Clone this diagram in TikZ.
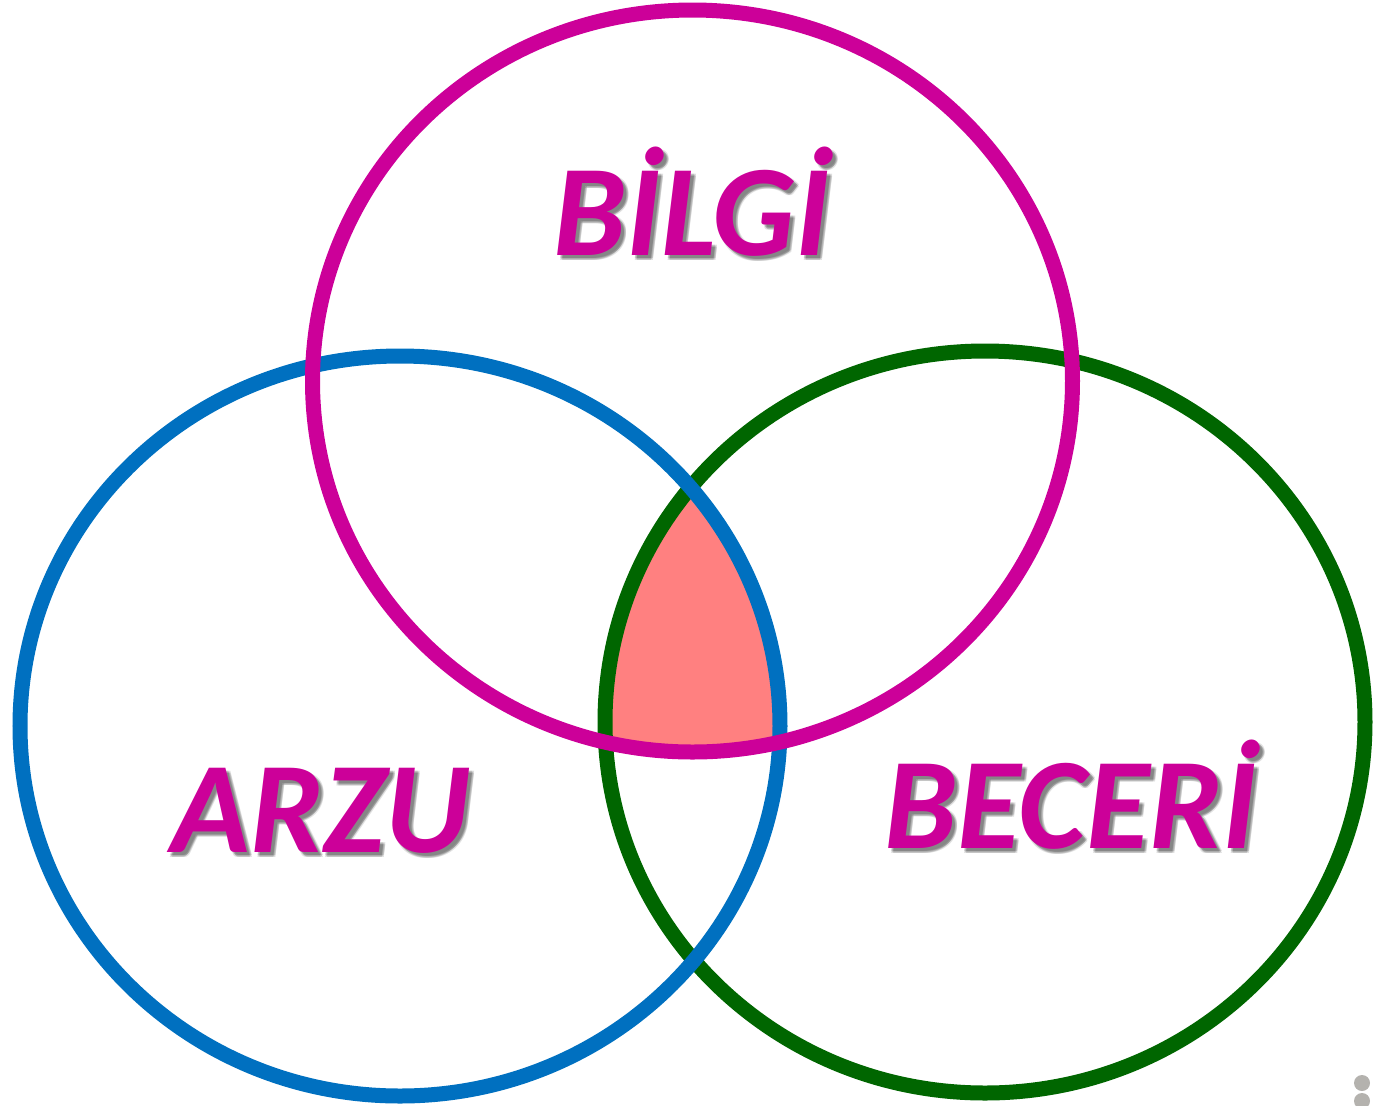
\documentclass[tikz,border=0pt]{standalone}
\usepackage{fontspec}
\setmainfont{Carlito}
\definecolor{mag}{HTML}{CC0099}
\definecolor{blu}{HTML}{0070C0}
\definecolor{grn}{HTML}{006600}
\definecolor{core}{HTML}{FF8080}
\definecolor{dotgray}{HTML}{B4B2AE}
\tikzset{
  ring/.style={line width=7.5pt},
  word/.style={font=\fontsize{65}{65}\selectfont\bfseries\itshape, text=mag, anchor=base, inner sep=0pt},
  shade/.style={font=\fontsize{65}{65}\selectfont\bfseries\itshape, text=black, text opacity=0.12, anchor=base, inner sep=0pt}
}
\begin{document}
\begin{tikzpicture}[x=0.5pt,y=-0.5pt]
\useasboundingbox (0,0) rectangle (1373,1105);
% centre region
\begin{scope}
  \clip (692.5,381) ellipse [x radius=380, y radius=371];
  \clip (400,726) ellipse [x radius=380, y radius=370];
  \fill[core] (985,722) ellipse [x radius=380, y radius=371];
\end{scope}
% rings
\draw[ring, grn] (985,722) ellipse [x radius=380, y radius=371];
\draw[ring, blu] (400,726) ellipse [x radius=380, y radius=370];
\draw[ring, mag] (692.5,381) ellipse [x radius=380, y radius=371];
% shadows
\foreach \dx/\dy in {3/3,4/4,5/5,3/5,5/3} {
  \node[shade] (sb\dx\dy) at (692+\dx,255+\dy) {BİLGİ};
  \node[shade] (sa\dx\dy) at (321+\dx,852+\dy) {ARZU};
  \node[shade] (sc\dx\dy) at (1071+\dx,848+\dy) {BECERİ};
}
% labels
\node[word] (bilgi) at (692,255) {BİLGİ};
\node[word] (arzu) at (321,852) {ARZU};
\node[word] (beceri) at (1071,848) {BECERİ};
% corner dots
\fill[dotgray] (1362,1083) circle [radius=8] coordinate (dot1);
\fill[dotgray] (1362,1101) circle [radius=8] coordinate (dot2);
\end{tikzpicture}
\end{document}
